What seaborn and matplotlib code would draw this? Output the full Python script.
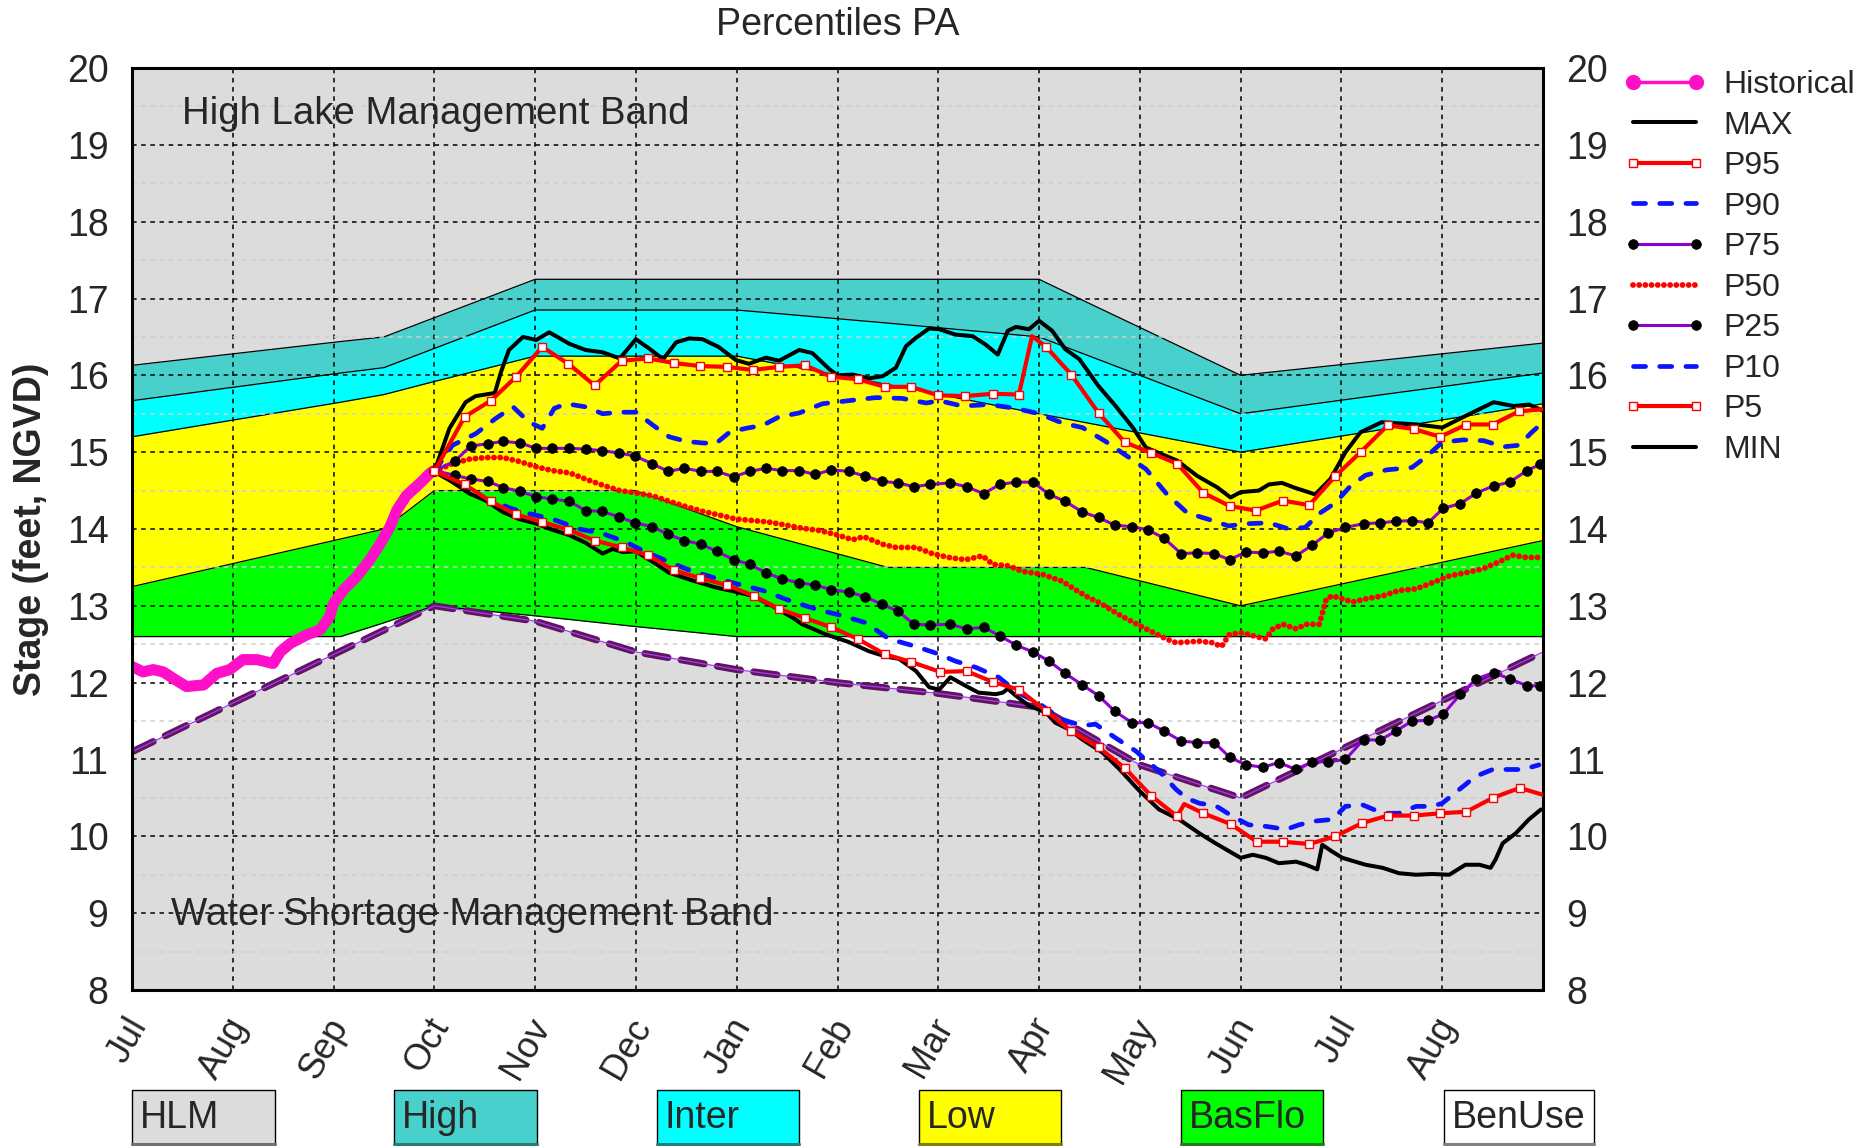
import numpy as np
import matplotlib
matplotlib.use("Agg")
import matplotlib.pyplot as plt
import matplotlib.transforms as mtransforms
import seaborn as sns
from matplotlib.lines import Line2D
from matplotlib.patches import Rectangle
from matplotlib.ticker import MultipleLocator

sns.set_style("white")
plt.rcParams['font.family'] = ['Liberation Sans', 'DejaVu Sans']

# ------------------------------------------------------------------ data
month_labels = ['Jul', 'Aug', 'Sep', 'Oct', 'Nov', 'Dec', 'Jan', 'Feb',
                'Mar', 'Apr', 'May', 'Jun', 'Jul', 'Aug']

# management band boundaries (x in months since Jul 1)
band_x = [0, 2.07, 2.5, 3, 4, 5, 6, 7.5, 9, 9.46, 11, 14]
hlm_high = [16.13, 16.44, 16.5, 16.75, 17.25, 17.25, 17.25, 17.25, 17.25, 16.96, 16.0, 16.42]
high_inter = [15.67, 16.03, 16.1, 16.35, 16.85, 16.85, 16.85, 16.68, 16.5, 16.27, 15.5, 16.03]
inter_low = [15.2, 15.65, 15.75, 15.92, 16.25, 16.25, 16.25, 15.88, 15.5, 15.385, 15.0, 15.63]
low_basflo = [13.25, 13.87, 14.0, 14.5, 14.5, 14.5, 14.03, 13.5, 13.5, 13.5, 13.0, 13.85]
basflo_bottom = [12.6, 12.6, 12.78, 13.0, 12.87, 12.73, 12.6, 12.6, 12.6, 12.6, 12.6, 12.6]

wsm_x = [0, 3, 4, 5, 6, 7, 8, 9, 10, 11, 14]
wsm_y = [11.1, 13.0, 12.8, 12.4, 12.17, 12.0, 11.86, 11.68, 10.93, 10.5, 12.4]

hist_x = [0.0, 0.11, 0.21, 0.31, 0.44, 0.54, 0.71, 0.84, 0.97, 1.1, 1.24, 1.4, 1.47,
          1.57, 1.73, 1.87, 1.96, 2.0, 2.1, 2.23, 2.36, 2.46, 2.56, 2.63, 2.72, 2.86,
          2.96, 3.0]
hist_y = [12.21, 12.14, 12.17, 12.14, 12.03, 11.95, 11.97, 12.12, 12.17, 12.3, 12.3,
          12.25, 12.4, 12.51, 12.62, 12.69, 12.86, 13.03, 13.21, 13.38, 13.6, 13.8,
          14.03, 14.25, 14.43, 14.6, 14.73, 14.76]

max_x = [3.0, 3.15, 3.31, 3.41, 3.6, 3.66, 3.74, 3.88, 4.01, 4.14, 4.34, 4.5, 4.67,
         4.84, 5.0, 5.13, 5.27, 5.4, 5.53, 5.66, 5.82, 5.99, 6.12, 6.29, 6.42, 6.62,
         6.75, 6.92, 7.0, 7.15, 7.31, 7.45, 7.58, 7.68, 7.78, 7.91, 8.01, 8.17, 8.34,
         8.47, 8.59, 8.69, 8.77, 8.9, 9.0, 9.13, 9.26, 9.4, 9.59, 9.76, 9.93, 10.06,
         10.26, 10.37, 10.57, 10.77, 10.9, 11.0, 11.18, 11.28, 11.41, 11.53, 11.74,
         11.89, 12.04, 12.19, 12.4, 12.75, 13.0, 13.26, 13.51, 13.71, 13.86, 14.0]
max_y = [14.75, 15.31, 15.65, 15.73, 15.77, 16.04, 16.33, 16.5, 16.46, 16.56, 16.41,
         16.33, 16.3, 16.22, 16.47, 16.35, 16.21, 16.43, 16.48, 16.47, 16.37, 16.2,
         16.15, 16.23, 16.19, 16.33, 16.29, 16.08, 16.0, 16.01, 15.96, 15.99, 16.1,
         16.38, 16.49, 16.61, 16.6, 16.53, 16.51, 16.4, 16.27, 16.58, 16.63, 16.6,
         16.71, 16.58, 16.34, 16.21, 15.86, 15.6, 15.32, 15.06, 14.95, 14.89, 14.69,
         14.54, 14.41, 14.48, 14.5, 14.58, 14.6, 14.54, 14.45, 14.65, 15.0, 15.26,
         15.39, 15.36, 15.32, 15.49, 15.65, 15.6, 15.62, 15.54]

p95_x = [3.0, 3.3, 3.56, 3.81, 4.07, 4.33, 4.59, 4.86, 5.12, 5.38, 5.64, 5.9, 6.16,
         6.42, 6.68, 6.94, 7.2, 7.47, 7.73, 8.0, 8.27, 8.54, 8.8, 8.93, 9.07, 9.32,
         9.59, 9.85, 10.11, 10.37, 10.63, 10.89, 11.15, 11.42, 11.68, 11.94, 12.19,
         12.46, 12.72, 12.98, 13.24, 13.5, 13.76, 14.0]
p95_y = [14.75, 15.46, 15.67, 15.98, 16.37, 16.15, 15.87, 16.19, 16.22, 16.16, 16.12,
         16.11, 16.07, 16.11, 16.13, 15.98, 15.95, 15.85, 15.85, 15.74, 15.73, 15.76,
         15.75, 16.51, 16.37, 16.01, 15.51, 15.13, 14.99, 14.85, 14.47, 14.3, 14.24,
         14.37, 14.31, 14.69, 15.0, 15.35, 15.3, 15.2, 15.36, 15.36, 15.53, 15.56]
p95_unmarked = [8.93, 14.0]

p90_x = [3.0, 3.18, 3.41, 3.61, 3.78, 3.94, 4.07, 4.19, 4.31, 4.5, 4.67, 4.84, 5.0,
         5.17, 5.33, 5.5, 5.66, 5.79, 5.93, 6.09, 6.26, 6.42, 6.62, 6.85, 7.11, 7.38,
         7.64, 7.88, 8.01, 8.24, 8.5, 8.77, 9.0, 9.23, 9.43, 9.66, 9.86, 10.06, 10.27,
         10.47, 10.67, 10.88, 11.08, 11.28, 11.48, 11.64, 11.79, 11.94, 12.09, 12.24,
         12.45, 12.7, 12.85, 13.0, 13.21, 13.41, 13.61, 13.76, 13.89, 14.0]
p90_y = [14.75, 15.09, 15.24, 15.44, 15.59, 15.39, 15.31, 15.57, 15.63, 15.59, 15.5,
         15.52, 15.52, 15.35, 15.2, 15.14, 15.12, 15.11, 15.26, 15.31, 15.35, 15.46,
         15.51, 15.63, 15.67, 15.71, 15.7, 15.64, 15.67, 15.6, 15.62, 15.57, 15.5,
         15.38, 15.32, 15.14, 14.96, 14.78, 14.45, 14.21, 14.13, 14.04, 14.07, 14.08,
         14.0, 14.02, 14.21, 14.34, 14.56, 14.7, 14.77, 14.8, 14.95, 15.13, 15.16,
         15.15, 15.07, 15.09, 15.26, 15.39]

pdot_x = [3.0, 3.2, 3.36, 3.53, 3.68, 3.85, 4.01, 4.17, 4.34, 4.5, 4.66, 4.83, 4.99,
          5.16, 5.32, 5.48, 5.65, 5.8, 5.97, 6.13, 6.29, 6.45, 6.62, 6.78, 6.94, 7.11,
          7.27, 7.44, 7.6, 7.76, 7.92, 8.12, 8.28, 8.45, 8.61, 8.77, 8.94, 9.1, 9.26,
          9.43, 9.59, 9.75, 9.92, 10.08, 10.24, 10.41, 10.57, 10.74, 10.89, 11.05,
          11.22, 11.38, 11.55, 11.71, 11.87, 12.04, 12.22, 12.38, 12.54, 12.7, 12.86,
          13.01, 13.18, 13.34, 13.51, 13.67, 13.84, 13.97]
p75_y = [14.76, 14.88, 15.08, 15.11, 15.14, 15.12, 15.05, 15.05, 15.05, 15.04, 15.02,
         14.99, 14.95, 14.85, 14.75, 14.79, 14.75, 14.75, 14.68, 14.75, 14.79, 14.76,
         14.76, 14.71, 14.77, 14.75, 14.69, 14.62, 14.6, 14.55, 14.58, 14.6, 14.55,
         14.46, 14.58, 14.61, 14.61, 14.45, 14.36, 14.22, 14.15, 14.05, 14.03, 13.99,
         13.88, 13.68, 13.69, 13.68, 13.6, 13.7, 13.69, 13.71, 13.65, 13.79, 13.95,
         14.02, 14.07, 14.08, 14.1, 14.11, 14.08, 14.27, 14.33, 14.47, 14.56, 14.61,
         14.76, 14.84]
p25_y = [14.76, 14.7, 14.65, 14.62, 14.54, 14.49, 14.42, 14.39, 14.36, 14.24, 14.23,
         14.16, 14.08, 14.03, 13.93, 13.85, 13.8, 13.71, 13.6, 13.54, 13.43, 13.35,
         13.3, 13.27, 13.21, 13.18, 13.12, 13.02, 12.93, 12.76, 12.75, 12.76, 12.7,
         12.72, 12.61, 12.49, 12.4, 12.28, 12.12, 11.97, 11.83, 11.63, 11.48, 11.48,
         11.37, 11.24, 11.22, 11.22, 11.03, 10.93, 10.9, 10.96, 10.87, 10.97, 10.97,
         11.0, 11.26, 11.25, 11.37, 11.5, 11.51, 11.59, 11.85, 12.05, 12.13, 12.05,
         11.96, 11.96]

p50_x = [3.0, 3.18, 3.35, 3.51, 3.68, 3.84, 4.01, 4.17, 4.34, 4.5, 4.67, 4.84, 5.0,
         5.17, 5.33, 5.5, 5.66, 5.83, 5.99, 6.16, 6.32, 6.49, 6.65, 6.82, 6.98, 7.15,
         7.26, 7.45, 7.58, 7.78, 7.94, 8.1, 8.27, 8.44, 8.54, 8.7, 8.83, 9.03, 9.23,
         9.36, 9.5, 9.6, 9.8, 10.03, 10.26, 10.36, 10.59, 10.72, 10.81, 10.89, 11.02,
         11.15, 11.25, 11.32, 11.42, 11.55, 11.65, 11.78, 11.85, 11.91, 12.11, 12.24,
         12.41, 12.57, 12.74, 12.9, 13.07, 13.23, 13.4, 13.56, 13.7, 13.83, 13.98]
p50_y = [14.75, 14.85, 14.91, 14.93, 14.93, 14.88, 14.81, 14.76, 14.73, 14.65, 14.57,
         14.5, 14.47, 14.43, 14.36, 14.29, 14.23, 14.18, 14.13, 14.11, 14.09, 14.05,
         14.01, 13.98, 13.93, 13.86, 13.9, 13.8, 13.76, 13.76, 13.68, 13.63, 13.6,
         13.65, 13.54, 13.52, 13.45, 13.41, 13.32, 13.21, 13.1, 13.04, 12.88, 12.72,
         12.57, 12.52, 12.54, 12.52, 12.47, 12.63, 12.65, 12.6, 12.57, 12.7, 12.76,
         12.7, 12.76, 12.76, 13.09, 13.13, 13.05, 13.09, 13.13, 13.2, 13.22, 13.3,
         13.39, 13.43, 13.48, 13.57, 13.66, 13.63, 13.63]

p10_x = [3.0, 3.18, 3.35, 3.51, 3.78, 3.94, 4.17, 4.44, 4.67, 4.9, 5.1, 5.33, 5.56,
         5.79, 6.02, 6.26, 6.52, 6.78, 7.05, 7.28, 7.51, 7.78, 8.01, 8.17, 8.37, 8.6,
         8.77, 9.03, 9.23, 9.43, 9.56, 9.76, 9.96, 10.09, 10.19, 10.36, 10.46, 10.59,
         10.75, 10.92, 11.08, 11.25, 11.45, 11.58, 11.75, 11.91, 12.04, 12.21, 12.41,
         12.57, 12.74, 12.9, 13.0, 13.17, 13.33, 13.5, 13.66, 13.8, 13.96]
p10_y = [14.75, 14.62, 14.52, 14.39, 14.26, 14.2, 14.13, 14.0, 13.94, 13.83, 13.7,
         13.57, 13.45, 13.36, 13.28, 13.2, 13.07, 12.96, 12.87, 12.78, 12.57, 12.47,
         12.37, 12.28, 12.2, 12.07, 11.89, 11.7, 11.52, 11.44, 11.46, 11.28, 11.11,
         10.96, 10.85, 10.61, 10.5, 10.43, 10.4, 10.26, 10.15, 10.13, 10.09, 10.15,
         10.2, 10.22, 10.39, 10.41, 10.3, 10.3, 10.39, 10.39, 10.43, 10.61, 10.78,
         10.87, 10.87, 10.87, 10.93]

p5_x = [3.0, 3.3, 3.56, 3.81, 4.07, 4.33, 4.59, 4.86, 5.12, 5.38, 5.64, 5.9, 6.17,
        6.42, 6.68, 6.94, 7.2, 7.47, 7.73, 8.02, 8.28, 8.54, 8.8, 9.07, 9.32, 9.59,
        9.85, 10.11, 10.37, 10.44, 10.63, 10.9, 11.16, 11.42, 11.68, 11.94, 12.2,
        12.46, 12.72, 12.98, 13.24, 13.5, 13.77, 14.0]
p5_y = [14.75, 14.58, 14.36, 14.19, 14.09, 13.99, 13.85, 13.76, 13.66, 13.46, 13.36,
        13.27, 13.13, 12.96, 12.84, 12.72, 12.57, 12.37, 12.27, 12.14, 12.15, 12.01,
        11.91, 11.63, 11.37, 11.16, 10.89, 10.53, 10.26, 10.42, 10.3, 10.16, 9.93,
        9.93, 9.9, 10.0, 10.17, 10.27, 10.27, 10.3, 10.32, 10.5, 10.63, 10.54]
p5_unmarked = [10.44, 14.0]

min_x = [3.0, 3.18, 3.35, 3.51, 3.68, 3.84, 4.01, 4.17, 4.34, 4.5, 4.67, 4.77, 4.87,
         5.0, 5.17, 5.33, 5.56, 5.79, 6.0, 6.16, 6.35, 6.55, 6.65, 6.88, 7.11, 7.31,
         7.48, 7.61, 7.78, 7.91, 8.01, 8.12, 8.27, 8.4, 8.57, 8.64, 8.69, 8.77, 8.9,
         9.07, 9.16, 9.3, 9.43, 9.63, 9.8, 9.99, 10.19, 10.39, 10.59, 10.75, 10.92,
         11.0, 11.12, 11.25, 11.38, 11.55, 11.65, 11.76, 11.81, 11.91, 12.01, 12.24,
         12.41, 12.57, 12.74, 12.9, 13.07, 13.23, 13.37, 13.48, 13.53, 13.6, 13.73,
         13.86, 13.98]
min_y = [14.75, 14.61, 14.46, 14.37, 14.22, 14.13, 14.07, 13.99, 13.92, 13.82, 13.68,
         13.74, 13.7, 13.71, 13.57, 13.43, 13.33, 13.24, 13.18, 13.13, 13.0, 12.85,
         12.76, 12.63, 12.53, 12.41, 12.34, 12.31, 12.15, 11.94, 11.91, 12.07, 11.96,
         11.87, 11.85, 11.87, 11.92, 11.83, 11.7, 11.61, 11.48, 11.39, 11.26, 11.09,
         10.87, 10.6, 10.35, 10.22, 10.04, 9.91, 9.78, 9.72, 9.76, 9.72, 9.65, 9.67,
         9.63, 9.57, 9.89, 9.8, 9.72, 9.63, 9.59, 9.52, 9.5, 9.51, 9.5, 9.63, 9.63,
         9.59, 9.7, 9.91, 10.04, 10.22, 10.35]

legend_labels = ['Historical', 'MAX', 'P95', 'P90', 'P75', 'P50', 'P25', 'P10', 'P5', 'MIN']
band_labels = ['HLM', 'High', 'Inter', 'Low', 'BasFlo', 'BenUse']

# ------------------------------------------------------------------ styles
C_HLM = '#dcdcdc'
C_HIGH = '#48d1cc'
C_INTER = '#00ffff'
C_LOW = '#ffff00'
C_BAS = '#00ff00'
C_BEN = '#ffffff'
C_MAG = '#ff10c8'
C_BLUE = '#0a14ff'
C_PURP = '#9000d0'
C_WSM = '#621460'

W, H = 1875, 1146
fig = plt.figure(figsize=(W / 100, H / 100), dpi=100)
L, R, T, B = 132, 1543, 68, 990
ax = fig.add_axes([L / W, 1 - B / H, (R - L) / W, (B - T) / H])
ax.set_facecolor(C_HLM)
ax.set_xlim(0, 14)
ax.set_ylim(8, 20)

# bands
ax.fill_between(band_x, 8, basflo_bottom, color=C_BEN, lw=0, zorder=0.1)
ax.fill_between(wsm_x, 8, wsm_y, color=C_HLM, lw=0, zorder=0.12)
ax.fill_between(band_x, basflo_bottom, low_basflo, color=C_BAS, lw=0, zorder=0.14)
ax.fill_between(band_x, low_basflo, inter_low, color=C_LOW, lw=0, zorder=0.14)
ax.fill_between(band_x, inter_low, high_inter, color=C_INTER, lw=0, zorder=0.14)
ax.fill_between(band_x, high_inter, hlm_high, color=C_HIGH, lw=0, zorder=0.14)
for bnd in (hlm_high, high_inter, inter_low, low_basflo, basflo_bottom):
    ax.plot(band_x, bnd, color='black', lw=0.9, zorder=0.3)

# grid
ax.set_axisbelow(True)
ax.set_xticks(range(len(month_labels)))
ax.set_xticklabels(month_labels)
ax.set_yticks(range(8, 21))
ax.yaxis.set_minor_locator(MultipleLocator(0.5))
ax.grid(which='major', color='black', lw=1.1, ls=(0, (3, 3)))
ax.grid(which='minor', axis='y', color='#cfcfcf', lw=1.1, ls=(0, (3, 3)))


def draw(x, y, **kw):
    sns.lineplot(x=x, y=y, ax=ax, sort=False, estimator=None, **kw)
    return ax.lines[-1]


# Water shortage management line
draw(wsm_x, wsm_y, color=C_WSM, lw=5.0, linestyle=(0, (3.4, 1.9)),
     dash_capstyle='round', zorder=1.6)
draw(wsm_x, wsm_y, color='#a040f0', lw=0.9, zorder=1.65)

# historical
draw(hist_x, hist_y, color=C_MAG, lw=8.0, solid_capstyle='round',
     solid_joinstyle='round', zorder=2.0)

marks95 = [i for i, v in enumerate(p95_x) if v not in p95_unmarked]
marks5 = [i for i, v in enumerate(p5_x) if v not in p5_unmarked]

h_max = draw(max_x, max_y, color='black', lw=2.9, zorder=2.6)
h_min = draw(min_x, min_y, color='black', lw=2.9, zorder=2.6)
h_p95 = draw(p95_x, p95_y, color='red', lw=3.0, marker='s', markersize=5.5,
             markerfacecolor='white', markeredgecolor='red', markeredgewidth=1.0,
             markevery=marks95, zorder=2.7)
h_p5 = draw(p5_x, p5_y, color='red', lw=3.0, marker='s', markersize=5.5,
            markerfacecolor='white', markeredgecolor='red', markeredgewidth=1.0,
            markevery=marks5, zorder=2.7)
h_p90 = draw(p90_x, p90_y, color=C_BLUE, lw=3.4, linestyle=(0, (2.55, 3.0)),
             dash_capstyle='round', zorder=2.5)
h_p10 = draw(p10_x, p10_y, color=C_BLUE, lw=3.4, linestyle=(0, (2.55, 3.0)),
             dash_capstyle='round', zorder=2.5)
h_p75 = draw(pdot_x, p75_y, color=C_PURP, lw=2.2, marker='o', markersize=7.0,
             markerfacecolor='black', markeredgecolor='black', markeredgewidth=0.5,
             zorder=2.4)
h_p25 = draw(pdot_x, p25_y, color=C_PURP, lw=2.2, marker='o', markersize=7.0,
             markerfacecolor='black', markeredgecolor='black', markeredgewidth=0.5,
             zorder=2.4)
h_p50 = draw(p50_x, p50_y, color='red', lw=4.2, linestyle=(0, (0.01, 1.05)),
             dash_capstyle='round', zorder=2.3)

if ax.get_legend() is not None:
    ax.get_legend().remove()

# axes styling
for s in ax.spines.values():
    s.set_color('black')
    s.set_linewidth(2.2)
ax.tick_params(axis='y', which='both', length=0, pad=17, labelsize=27,
               labelleft=True, labelright=True)
ax.tick_params(axis='x', which='both', length=0, pad=22, labelsize=26)
shift = mtransforms.ScaledTranslation(0.07, 0, fig.dpi_scale_trans)
for lab in ax.get_xticklabels():
    lab.set_rotation(60)
    lab.set_ha('right')
    lab.set_va('center')
    lab.set_rotation_mode('anchor')
    lab.set_transform(lab.get_transform() + shift)
ax.set_xlabel('')
ax.set_ylabel('Stage (feet, NGVD)', fontsize=27, fontweight='bold')
ax.yaxis.set_label_coords(-0.0585, 0.5)

ax.text(0.5, 19.4, 'High Lake Management Band', fontsize=27.6, va='center', ha='left',
        zorder=3)
ax.text(0.39, 8.98, 'Water Shortage Management Band', fontsize=27.6, va='center',
        ha='left', zorder=3)
fig.text((L + R) / 2 / W, 1 - 25 / H, 'Percentiles PA', fontsize=27, ha='center',
         va='center')

# right legend
h_hist = Line2D([], [], color=C_MAG, lw=2.5, marker='o', markersize=10,
                markerfacecolor=C_MAG, markeredgecolor=C_MAG)
handles = [h_hist, h_max, h_p95, h_p90, h_p75, h_p50, h_p25, h_p10, h_p5, h_min]
fig.legend(handles, legend_labels, loc='upper left', bbox_to_anchor=(1623 / W, 1 - 70 / H),
           frameon=False, fontsize=23, handlelength=2.57, handletextpad=0.56,
           labelspacing=0.33, borderaxespad=0, borderpad=0, numpoints=2, markerscale=1.0)

# bottom band key
box_left = [131.6, 393.8, 657, 919, 1181, 1443.5]
box_w = [143, 143, 142, 142, 142, 150]
box_colors = [C_HLM, C_HIGH, C_INTER, C_LOW, C_BAS, C_BEN]
shade = ['#707070', '#2a7a76', '#208080', '#808000', '#208020', '#808080']
for xl, wd, col, sh, lab in zip(box_left, box_w, box_colors, shade, band_labels):
    fig.patches.append(Rectangle((xl / W, 1 - 1145 / H), wd / W, 55 / H,
                                 transform=fig.transFigure, facecolor=col,
                                 edgecolor='black', lw=1.0))
    fig.lines.append(Line2D([xl / W, (xl + wd) / W], [1 - 1144 / H, 1 - 1144 / H],
                            transform=fig.transFigure, color=sh, lw=2.2))
    fig.text((xl + 8) / W, 1 - 1118 / H, lab, fontsize=27, ha='left', va='center')

fig.savefig('out.png', dpi=100)
